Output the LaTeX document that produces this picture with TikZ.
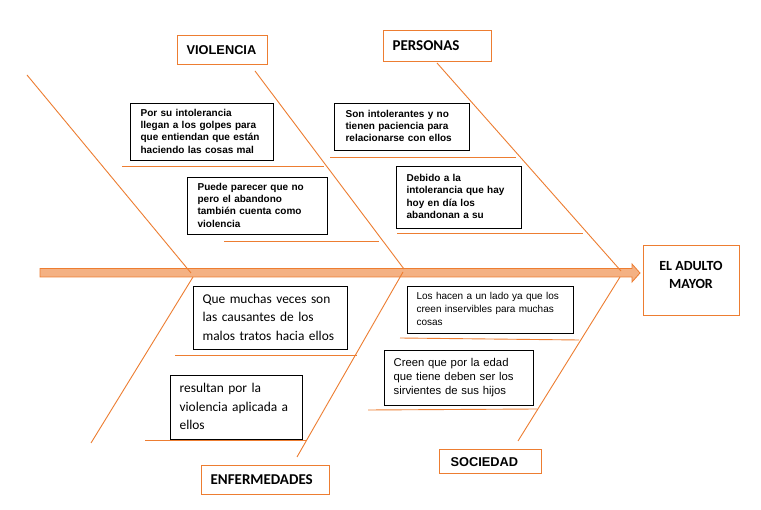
\documentclass[tikz,border=0pt]{standalone}
\usepackage{fontspec}
\newfontfamily\arialf{Liberation Sans}
\newfontfamily\calibrif{Carlito}
\definecolor{bonec}{HTML}{ED7D31}
\definecolor{spinef}{HTML}{F4B183}
\newcommand{\boxlines}[1]{\begin{tabular}{@{}l@{}}#1\end{tabular}}
\tikzset{
  bone/.style={draw=bonec, line width=0.9pt},
  tbox/.style={draw=black, line width=1.2pt, anchor=north west, align=left, inner ysep=0pt},
  hbox/.style={draw=bonec, line width=1.2pt, anchor=north west, align=left, inner ysep=0pt},
  ab/.style={font=\arialf\bfseries\fontsize{10}{12.3}\selectfont},
  ar/.style={font=\arialf\fontsize{10}{12.7}\selectfont},
  ar2/.style={font=\arialf\fontsize{11.3}{14}\selectfont},
  cr/.style={font=\calibrif\fontsize{13.4}{18.4}\selectfont},
  hb/.style={font=\calibrif\bfseries\fontsize{15}{18}\selectfont},
  hab/.style={font=\arialf\bfseries\fontsize{12.8}{15}\selectfont},
}
\begin{document}
\begin{tikzpicture}[x=1pt,y=-1pt]
\path[use as bounding box, fill=white] (0,0) rectangle (761,510);

% spine
\draw[draw=bonec, fill=spinef, line width=0.8pt]
  (40,268.5) -- (632,268.5) -- (632,264) -- (640,273) -- (632,282) -- (632,277) -- (40,277) -- cycle;

% coordinates for bones
\coordinate (t1a) at (27,75);   \coordinate (t1b) at (191,273);
\coordinate (t2a) at (255,71);  \coordinate (t2b) at (404,269);
\coordinate (t3a) at (437,63);  \coordinate (t3b) at (621,271);
\coordinate (b1a) at (193,277); \coordinate (b1b) at (91,443);
\coordinate (b2a) at (403,272); \coordinate (b2b) at (297,457);
\coordinate (b3a) at (620,277); \coordinate (b3b) at (518,441);

\draw[bone] (t1a) -- (t1b);
\draw[bone] (t2a) -- (t2b);
\draw[bone] (t3a) -- (t3b);
\draw[bone] (b1a) -- (b1b);
\draw[bone] (b2a) -- (b2b);
\draw[bone] (b3a) -- (b3b);

% horizontal ribs
\coordinate (r1a) at (122,166); \coordinate (r1b) at (324,166);
\coordinate (r2a) at (224,241); \coordinate (r2b) at (379,241);
\coordinate (r3a) at (330,157); \coordinate (r3b) at (516,157);
\coordinate (r4a) at (397,233); \coordinate (r4b) at (583,233);
\coordinate (r5a) at (175,355); \coordinate (r5b) at (357,355);
\coordinate (r6a) at (145,440); \coordinate (r6b) at (307,440);
\coordinate (r7a) at (400,338); \coordinate (r7b) at (579,340);
\coordinate (r8a) at (368,410); \coordinate (r8b) at (537,409);
\foreach \r in {1,...,8} { \draw[bone] (r\r a) -- (r\r b); }

% header boxes
\node[hbox, hab, minimum width=90pt, minimum height=29pt, inner xsep=9pt, text width=72pt] (viol) at (177,35) {VIOLENCIA};
\node[hbox, hb, minimum width=108pt, minimum height=31pt, inner xsep=9pt, text width=90pt] (pers) at (383,30) {PERSONAS};
\node[hbox, hb, minimum width=128pt, minimum height=29pt, inner xsep=9pt, text width=110pt] (enf) at (201,465) {ENFERMEDADES};
\node[hbox, hab, minimum width=102pt, minimum height=24pt, inner xsep=11pt, text width=80pt] (soc) at (439,449) {SOCIEDAD};
\node[hbox, minimum width=96pt, minimum height=70pt] (adult) at (643,245) {};
\node[hb, font=\calibrif\bfseries\fontsize{14}{18}\selectfont, align=center, inner sep=0pt] (adulttxt) at (691,275) {EL ADULTO\\MAYOR};

% cause boxes
\node[tbox, ab, minimum width=143pt, minimum height=57pt, inner xsep=10pt, text width=123pt] (v1) at (130,103)
  {\boxlines{Por su intolerancia\\llegan a los golpes para\\que entiendan que están\\haciendo las cosas mal}};
\node[tbox, ab, minimum width=140pt, minimum height=57pt, inner xsep=10pt, text width=120pt] (v2) at (187,177)
  {\boxlines{Puede parecer que no\\pero el abandono\\también cuenta como\\violencia}};
\node[tbox, ab, minimum width=135pt, minimum height=47pt, inner xsep=11pt, text width=113pt] (p1) at (334,103)
  {\boxlines{Son intolerantes y no\\tienen paciencia para\\relacionarse con ellos}};
\node[tbox, ab, minimum width=125pt, minimum height=62pt, inner xsep=10pt, text width=105pt] (p2) at (396,166)
  {\boxlines{Debido a la\\intolerancia que hay\\hoy en día los\\abandonan a su}};
\node[tbox, cr, minimum width=154pt, minimum height=63pt, inner xsep=9pt, text width=136pt] (e1) at (193,286)
  {\boxlines{Que muchas veces son\\las causantes de los\\malos tratos hacia ellos}};
\node[tbox, cr, minimum width=132pt, minimum height=64pt, inner xsep=9pt, text width=114pt] (e2) at (170,375)
  {\boxlines{resultan por la\\violencia aplicada a\\ellos}};
\node[tbox, ar, minimum width=166pt, minimum height=47pt, inner xsep=9pt, text width=148pt] (s1) at (407,286)
  {\boxlines{Los hacen a un lado ya que los\\creen inservibles para muchas\\cosas}};
\node[tbox, ar2, minimum width=149pt, minimum height=55pt, inner xsep=9pt, text width=131pt] (s2) at (384,350)
  {\boxlines{Creen que por la edad\\que tiene deben ser los\\sirvientes de sus hijos}};
\end{tikzpicture}
\end{document}
